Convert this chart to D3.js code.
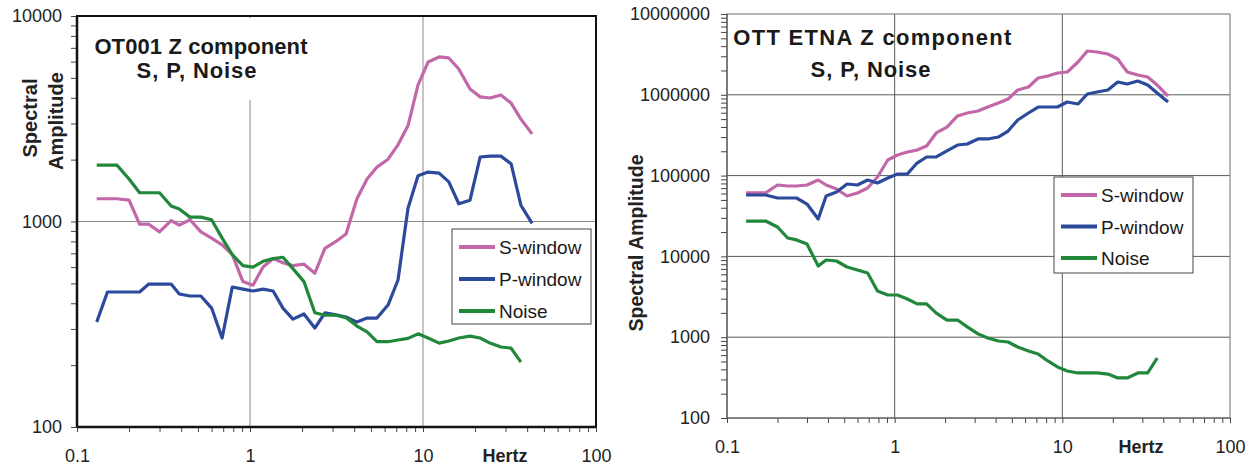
<!DOCTYPE html>
<html>
<head>
<meta charset="utf-8">
<script src="https://cdn.jsdelivr.net/npm/d3@7"></script>
<style>
  body { margin: 0; background: #fff; }
  svg { display: block; font-family: "Liberation Sans", Arial, sans-serif; }
</style>
</head>
<body>
<svg id="chart" width="1255" height="468"></svg>
<script>
// frequencies (Hz) shared by both stations
const freqHz = [0.13, 0.15, 0.17, 0.2, 0.23, 0.26, 0.3, 0.35, 0.39, 0.45, 0.52, 0.6, 0.69, 0.79, 0.91,
  1.04, 1.19, 1.36, 1.55, 1.77, 2.05, 2.37, 2.71, 3.14, 3.59, 4.15, 4.75, 5.42, 6.28, 7.17, 8.19, 9.36,
  10.7, 12.4, 14.1, 16.1, 18.7, 21.4, 24.4, 28.2, 32.3, 36.8, 42.7];

// OT001 Z component
const ot001S = [1290, 1290, 1290, 1270, 970, 970, 890, 1010, 960, 1020, 890, 830, 770, 690, 510,
  490, 600, 660, 630, 610, 620, 560, 740, 800, 870, 1290, 1610, 1840, 2010, 2360, 2920, 4620,
  5970, 6320, 6250, 5520, 4410, 4040, 3990, 4130, 3770, 3150, 2670];
const ot001P = [324, 454, 454, 454, 454, 496, 496, 496, 444, 434, 434, 379, 271, 480, 469,
  459, 469, 459, 379, 335, 355, 303, 359, 351, 343, 324, 339, 339, 392, 519, 1160, 1670,
  1740, 1720, 1560, 1220, 1270, 2060, 2080, 2080, 1910, 1200, 980];
const ot001Noise = [1880, 1880, 1880, 1610, 1380, 1380, 1380, 1190, 1150, 1050, 1050, 1020, 830, 690, 610,
  600, 640, 660, 670, 590, 510, 360, 350, 350, 340, 310, 290, 260, 260, 265, 270, 284,
  271, 256, 262, 271, 277, 271, 256, 245, 242, 207];

// OTT ETNA Z component
const etnaS = [61000, 61000, 61000, 76500, 74300, 74300, 76500, 88200, 76500, 68300, 55900, 60900, 70200, 96100, 156000,
  180000, 196000, 207000, 232000, 337000, 399000, 547000, 595000, 630000, 706000, 791000, 887000, 1147000, 1249000, 1614000, 1709000, 1861000,
  1915000, 2547000, 3485000, 3386000, 3199000, 2774000, 1915000, 1758000, 1661000, 1322000, 966000];
const etnaP = [57500, 57500, 57500, 52800, 52800, 52800, 44500, 29000, 55900, 62700, 78700, 76500, 88200, 81000, 93400,
  104700, 104700, 143000, 170000, 170000, 202000, 239000, 246000, 284000, 284000, 300000, 356000, 488000, 595000, 706000, 706000, 706000,
  814000, 769000, 1023000, 1083000, 1147000, 1440000, 1360000, 1482000, 1322000, 1053000, 814000];
const etnaNoise = [27400, 27400, 27400, 23100, 16900, 16000, 14200, 7600, 9030, 8770, 7390, 6790, 6230, 3730, 3330,
  3330, 2970, 2580, 2580, 1990, 1630, 1630, 1340, 1100, 977, 897, 872, 756, 675, 620, 508, 428,
  382, 361, 361, 361, 350, 313, 313, 361, 361, 553];

const seriesNames = ['S-window', 'P-window', 'Noise'];
const seriesColors = ['#c267a8', '#2c4a9c', '#21873b'];

const xDecades = [0.1, 1, 10, 100];
const ot001YDecades = [100, 1000, 10000];
const etnaYDecades = [100, 1000, 10000, 100000, 1000000, 10000000];

const svg = d3.select('#chart');

// minor ticks 1..9 for every decade between two bounds
function logTicks(lo, hi) {
  const out = [];
  for (let d = lo; d < hi; d *= 10) {
    for (let k = 1; k < 10; k++) out.push(+(d * k).toPrecision(3));
  }
  out.push(hi);
  return out;
}

function drawPanel(p) {
  const x = d3.scaleLog().domain([0.1, 100]).range([p.left, p.right]);
  const y = d3.scaleLog().domain([p.yMin, p.yMax]).range([p.bottom, p.top]);
  const g = svg.append('g');

  // grid
  g.selectAll('line.vgrid')
    .data(p.xGrid).join('line')
    .attr('x1', d => x(d)).attr('x2', d => x(d))
    .attr('y1', p.top).attr('y2', p.bottom)
    .attr('stroke', p.gridColor).attr('stroke-width', 1);
  g.selectAll('line.hgrid')
    .data(p.yGrid).join('line')
    .attr('x1', p.left).attr('x2', p.right)
    .attr('y1', d => y(d)).attr('y2', d => y(d))
    .attr('stroke', p.gridColor).attr('stroke-width', 1);

  // title box (left chart hides the grid behind it)
  if (p.titleBg) {
    g.append('rect')
      .attr('x', p.titleBg[0]).attr('y', p.titleBg[1])
      .attr('width', p.titleBg[2]).attr('height', p.titleBg[3])
      .attr('fill', '#fff');
  }

  // frame
  g.append('rect')
    .attr('x', p.left).attr('y', p.top)
    .attr('width', p.right - p.left).attr('height', p.bottom - p.top)
    .attr('fill', 'none').attr('stroke', p.frameColor).attr('stroke-width', p.frameWidth);

  // axes
  const yAxis = d3.axisLeft(y)
    .tickValues(logTicks(p.yMin, p.yMax))
    .tickSize(6).tickPadding(p.yPad)
    .tickFormat(d => p.yDecades.includes(d) ? String(d) : '');
  const ya = g.append('g').attr('transform', `translate(${p.left},0)`).call(yAxis);

  const xAxis = d3.axisBottom(x)
    .tickValues(logTicks(0.1, 100))
    .tickSize(5).tickPadding(17)
    .tickFormat(d => xDecades.includes(d) ? String(d) : '');
  const xa = g.append('g').attr('transform', `translate(0,${p.bottom})`).call(xAxis);

  [ya, xa].forEach(a => {
    a.select('.domain').remove();
    a.selectAll('.tick line').attr('stroke', '#444');
    a.selectAll('.tick text').attr('font-size', 18).attr('fill', '#222')
      .attr('font-family', '"Liberation Sans", Arial, sans-serif');
  });
  g.append('line')
    .attr('x1', p.left).attr('x2', p.left).attr('y1', p.top).attr('y2', p.bottom)
    .attr('stroke', p.axisColor).attr('stroke-width', p.axisWidth);
  g.append('line')
    .attr('x1', p.left).attr('x2', p.right).attr('y1', p.bottom).attr('y2', p.bottom)
    .attr('stroke', p.axisColor).attr('stroke-width', p.axisWidth);

  // Hertz label
  g.append('text')
    .attr('x', p.hertzX).attr('y', p.bottom + 35)
    .attr('text-anchor', 'middle').attr('font-size', 18).attr('font-weight', 'bold')
    .attr('fill', '#222').text('Hertz');

  // y title
  p.yTitle.forEach(t => {
    g.append('text')
      .attr('transform', `translate(${t.x},${t.y}) rotate(-90)`)
      .attr('text-anchor', 'middle').attr('font-size', t.size).attr('font-weight', 'bold')
      .attr('fill', '#222').text(t.text);
  });

  // chart title
  p.title.forEach(t => {
    g.append('text')
      .attr('x', t.x).attr('y', t.y)
      .attr('text-anchor', 'middle').attr('font-size', 22).attr('font-weight', 'bold')
      .attr('letter-spacing', t.ls).attr('fill', '#1a1a1a').text(t.text);
  });

  // series
  const line = d3.line()
    .x(d => x(d[0]))
    .y(d => y(d[1]));
  p.series.forEach((vals, i) => {
    const pts = vals.map((v, j) => [freqHz[j], v]);
    g.append('path')
      .datum(pts)
      .attr('d', line)
      .attr('fill', 'none')
      .attr('stroke', seriesColors[i])
      .attr('stroke-width', 3.2)
      .attr('stroke-linejoin', 'round');
  });

  // legend
  const lg = p.legend;
  g.append('rect')
    .attr('x', lg.x).attr('y', lg.y).attr('width', lg.w).attr('height', lg.h)
    .attr('fill', '#fff').attr('stroke', '#444').attr('stroke-width', 1);
  seriesNames.forEach((name, i) => {
    const cy = lg.y + lg.first + i * lg.step;
    g.append('line')
      .attr('x1', lg.x + 7).attr('x2', lg.x + 43)
      .attr('y1', cy).attr('y2', cy)
      .attr('stroke', seriesColors[i]).attr('stroke-width', 4);
    g.append('text')
      .attr('x', lg.x + 47).attr('y', cy + 7)
      .attr('font-size', 19).attr('fill', '#1a1a1a').text(name);
  });
}

drawPanel({
  left: 77, right: 596, top: 16, bottom: 427,
  yMin: 100, yMax: 10000, yDecades: ot001YDecades, yPad: 9,
  xGrid: [1, 10], yGrid: [1000],
  gridColor: '#8a8a8a', frameColor: '#111', frameWidth: 2,
  axisColor: '#111', axisWidth: 2.5,
  titleBg: [86, 18, 232, 82],
  hertzX: 505,
  yTitle: [
    { text: 'Spectral', x: 37, y: 118, size: 20 },
    { text: 'Amplitude', x: 63, y: 121, size: 20 }
  ],
  title: [
    { text: 'OT001 Z component', x: 201, y: 54, ls: 0.1 },
    { text: 'S, P, Noise', x: 197, y: 78, ls: 0.9 }
  ],
  series: [ot001S, ot001P, ot001Noise],
  legend: { x: 452, y: 229, w: 139, h: 95, first: 18, step: 32 }
});

drawPanel({
  left: 727, right: 1230, top: 14, bottom: 418,
  yMin: 100, yMax: 10000000, yDecades: etnaYDecades, yPad: 11,
  xGrid: [1, 10], yGrid: [1000, 10000, 100000, 1000000],
  gridColor: '#5a5a5a', frameColor: '#888', frameWidth: 1.2,
  axisColor: '#555', axisWidth: 1.2,
  titleBg: null,
  hertzX: 1141,
  yTitle: [
    { text: 'Spectral Amplitude', x: 643, y: 243, size: 19.5 }
  ],
  title: [
    { text: 'OTT ETNA Z component', x: 873, y: 45, ls: 1.3 },
    { text: 'S, P, Noise', x: 871, y: 77, ls: 0.9 }
  ],
  series: [etnaS, etnaP, etnaNoise],
  legend: { x: 1054, y: 177, w: 139, h: 96, first: 18, step: 31.5 }
});
</script>
</body>
</html>
